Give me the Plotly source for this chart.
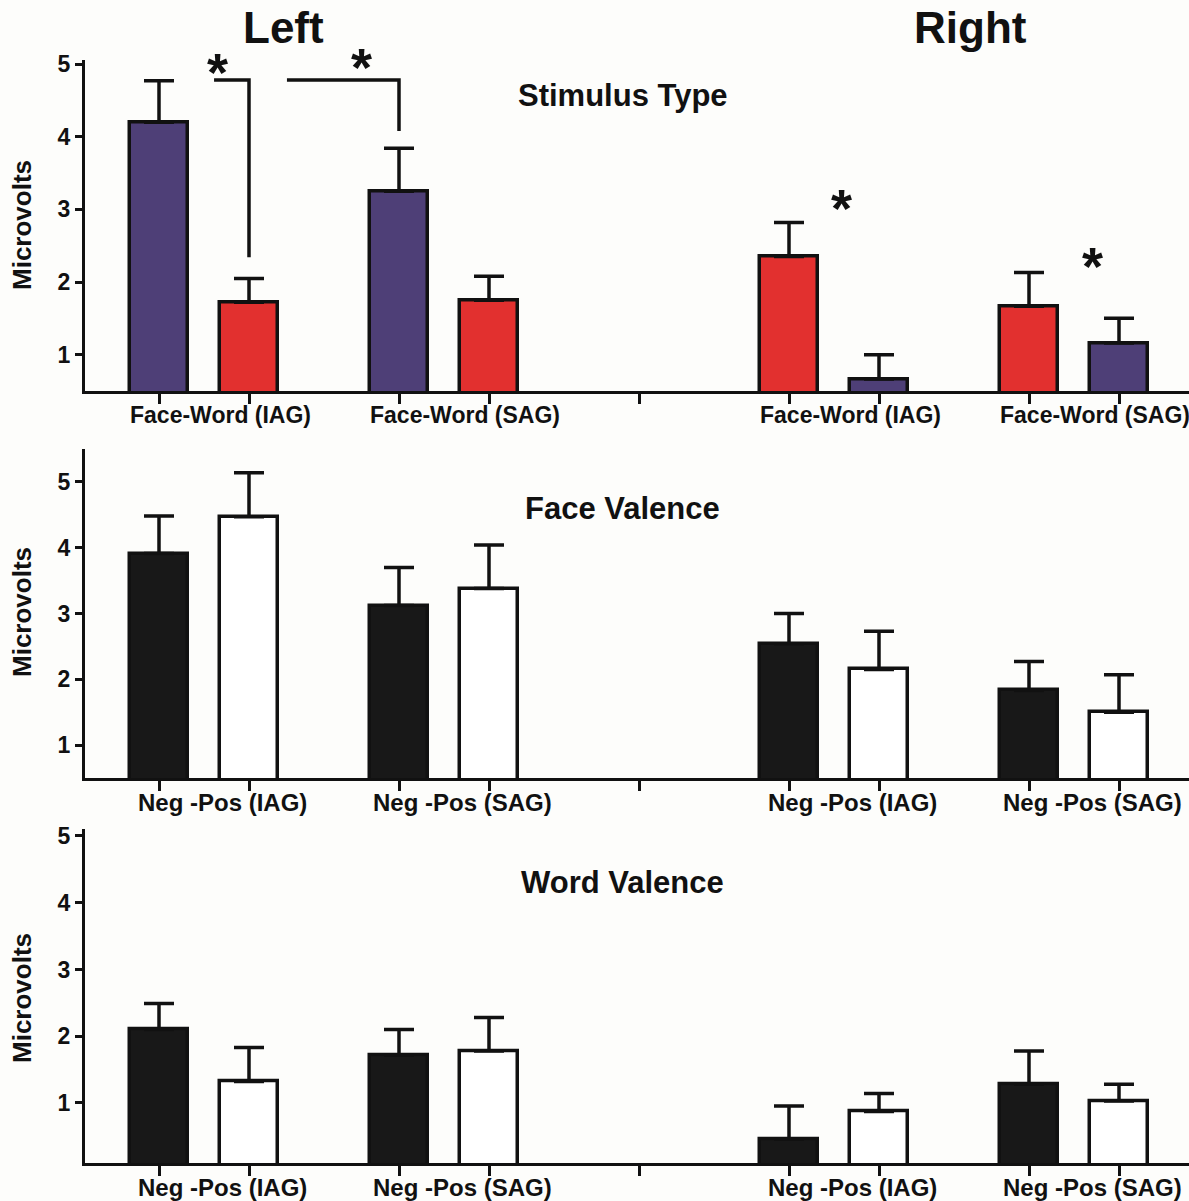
import plotly.graph_objects as go

# ---------------- data ----------------
hemispheres = ["Left", "Right"]
panel_titles = ["Stimulus Type", "Face Valence", "Word Valence"]
stim_labels = ["Face-Word (IAG)", "Face-Word (SAG)", "Face-Word (IAG)", "Face-Word (SAG)"]
val_labels = ["Neg -Pos (IAG)", "Neg -Pos (SAG)", "Neg -Pos (IAG)", "Neg -Pos (SAG)"]

stim_values = [4.20, 1.72, 3.25, 1.75, 2.35, 0.665, 1.665, 1.16]
stim_errors = [0.57, 0.33, 0.59, 0.33, 0.47, 0.335, 0.465, 0.34]
stim_kind = ["Face", "Word", "Face", "Word", "Word", "Face", "Word", "Face"]

face_val_values = [3.91, 4.47, 3.12, 3.38, 2.54, 2.15, 1.83, 1.50]
face_val_errors = [0.57, 0.67, 0.58, 0.66, 0.46, 0.58, 0.44, 0.57]

word_val_values = [2.10, 1.32, 1.72, 1.78, 0.46, 0.87, 1.28, 1.03]
word_val_errors = [0.39, 0.51, 0.38, 0.50, 0.495, 0.27, 0.50, 0.25]

val_kind = ["Neg", "Pos", "Neg", "Pos", "Neg", "Pos", "Neg", "Pos"]

y_ticks = [1, 2, 3, 4, 5]

# significance markers (panel 1): bracket start x, bracket end x, bracket height, drop-to value
bracket_x0 = [0.367, 0.853]
bracket_x1 = [0.6, 1.6]
bracket_top = [4.78, 4.78]
bracket_bottom = [2.34, 4.08]
star_x = [0.39, 1.35, 4.55, 6.22]
star_y = [4.99, 5.05, 3.12, 2.32]

# ---------------- styles ----------------
FONT = "Liberation Sans, Arial, sans-serif"
INK = "#111111"
kind_colors = {"Face": "#4E3F77", "Word": "#E2302F", "Neg": "#181818", "Pos": "#FFFFFF"}
group_pos = [0.0, 1.6, 4.2, 5.8]
bar_offsets = [0.0, 0.6]
bar_x = [g + o for g in group_pos for o in bar_offsets]
tick_x = bar_x[:4] + [3.2] + bar_x[4:]
x_range = [(85 - 159) / 150, (1189 - 159) / 150]

y_ranges = [[0.5, 5.05], [0.5, 5.5], [0.1, 5.1]]
W, H = 1189, 1201
domains = [[1 - 391 / H, 1 - 60.4 / H], [1 - 778 / H, 1 - 449 / H], [1 - 1163 / H, 1 - 829.3 / H]]
title_y = [4.56, 4.59, 4.31]
ylabel_center_px = [225, 612, 998]

fig = go.Figure()

panels = [
    (stim_values, stim_errors, stim_kind, stim_labels),
    (face_val_values, face_val_errors, val_kind, val_labels),
    (word_val_values, word_val_errors, val_kind, val_labels),
]

annotations = []
for i, (vals, errs, kinds, labels) in enumerate(panels):
    sfx = "" if i == 0 else str(i + 1)
    fig.add_trace(go.Bar(
        x=bar_x, y=vals, width=0.39,
        marker=dict(color=[kind_colors[k] for k in kinds], line=dict(color=INK, width=3.5)),
        error_y=dict(type="data", symmetric=False, array=errs, arrayminus=[0] * len(errs),
                     color=INK, thickness=3.5, width=15),
        xaxis="x" + sfx, yaxis="y" + sfx, showlegend=False,
    ))
    axis_common = dict(showline=True, linecolor=INK, linewidth=3, ticks="outside",
                       tickcolor=INK, tickwidth=3, showgrid=False, zeroline=False)
    fig.update_layout(**{
        "xaxis" + sfx: dict(domain=[85 / W, 1], range=x_range, anchor="y" + sfx,
                            tickvals=tick_x, showticklabels=False, ticklen=10, **axis_common),
        "yaxis" + sfx: dict(domain=domains[i], range=y_ranges[i], anchor="x" + sfx,
                            tickvals=y_ticks, ticklen=7,
                            tickfont=dict(family=FONT, size=23, color=INK, weight="bold"),
                            **axis_common),
    })
    # group labels
    for g, lab in zip(group_pos, labels):
        if i == 0:
            pos = dict(x=g - 0.21, xanchor="left", font=dict(family=FONT, size=23, color=INK, weight="bold"))
        else:
            pos = dict(x=g + 0.42, xanchor="center", font=dict(family=FONT, size=24, color=INK, weight="bold"))
        annotations.append(dict(
            y=0, xref="x" + sfx, yref=("y" + sfx + " domain"),
            text=lab, showarrow=False, yanchor="top", yshift=-9, **pos))
    # panel title
    annotations.append(dict(
        x=3.09, y=title_y[i], xref="x" + sfx, yref="y" + sfx, text=panel_titles[i],
        showarrow=False, xanchor="center", yanchor="middle",
        font=dict(family=FONT, size=31, color=INK, weight="bold")))
    # y-axis title
    annotations.append(dict(
        x=22 / W, y=1 - ylabel_center_px[i] / H, xref="paper", yref="paper",
        text="Microvolts", textangle=-90, showarrow=False, xanchor="center", yanchor="middle",
        font=dict(family=FONT, size=26, color=INK, weight="bold")))

# significance brackets
for x0, x1, yt, yb in zip(bracket_x0, bracket_x1, bracket_top, bracket_bottom):
    fig.add_trace(go.Scatter(x=[x0, x1, x1], y=[yt, yt, yb], mode="lines",
                             line=dict(color=INK, width=3.5), xaxis="x", yaxis="y",
                             showlegend=False, hoverinfo="skip", cliponaxis=False))
for sx, sy in zip(star_x, star_y):
    annotations.append(dict(x=sx, y=sy, xref="x", yref="y", text="*", showarrow=False,
                            xanchor="center", yanchor="middle", yshift=-7,
                            font=dict(family=FONT, size=54, color=INK, weight="bold")))

# hemisphere headers
for hx, hname in zip([283 / W, 970 / W], hemispheres):
    annotations.append(dict(x=hx, y=1 - 28 / H, xref="paper", yref="paper", text=hname,
                            showarrow=False, xanchor="center", yanchor="middle",
                            font=dict(family=FONT, size=44, color=INK, weight="bold")))

fig.update_layout(
    width=W, height=H, margin=dict(l=0, r=0, t=0, b=0, autoexpand=False),
    paper_bgcolor="#FDFDFB", plot_bgcolor="rgba(0,0,0,0)",
    annotations=annotations, bargap=0,
)

fig.write_html("out.html", config={"displayModeBar": False},
               post_script="document.body.style.margin='0px';document.body.style.overflow='hidden';")
